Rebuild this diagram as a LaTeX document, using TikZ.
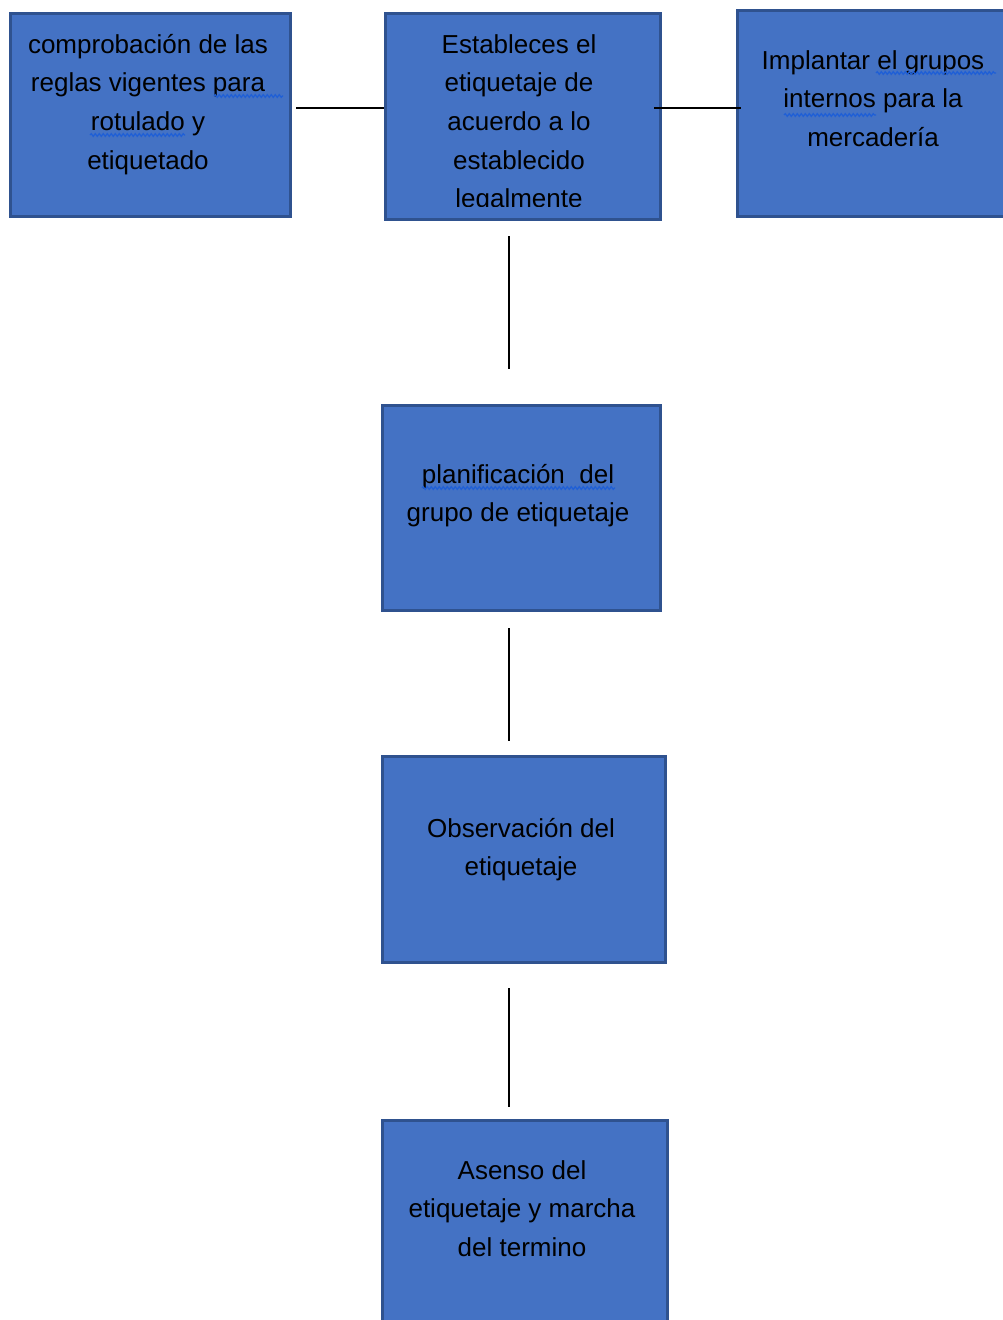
\documentclass[tikz,border=0pt]{standalone}
\usepackage{fontspec}
\setmainfont{Liberation Sans}
\usetikzlibrary{decorations.pathmorphing}
\definecolor{boxfill}{HTML}{4472C4}
\definecolor{boxline}{HTML}{2F528F}
\definecolor{spell}{HTML}{1F5FD6}
\begin{document}
\begin{tikzpicture}[x=1pt,y=-1pt,
  box/.style={draw=boxline, line width=2.5pt, fill=boxfill, rectangle, inner sep=0pt, anchor=north west},
  txt/.style={align=center, anchor=base, inner sep=0pt, font=\fontsize{26}{38.7}\selectfont, text=black},
  conn/.style={line width=2.6pt, black},
  squig/.style={spell, line width=1.3pt, decorate, decoration={snake, amplitude=1.3pt, segment length=4pt}}]
\useasboundingbox (0,0) rectangle (1003,1320);
\clip (0,0) rectangle (1003,1320);
% boxes
\node[box, minimum width=280pt, minimum height=203pt] (b1) at (9,12) {};
\node[box, minimum width=275pt, minimum height=206pt] (b2) at (384,12) {};
\node[box, minimum width=280pt, minimum height=206pt] (b3) at (736,9) {};
\node[box, minimum width=278pt, minimum height=205pt] (b4) at (381,404) {};
\node[box, minimum width=283pt, minimum height=206pt] (b5) at (381,755) {};
\node[box, minimum width=285pt, minimum height=215pt] (b6) at (381,1119) {};
% texts (anchored at the baseline of their last line)
\node[txt] (t1) at (148,169.1) {comprobación de las\\reglas vigentes para\\rotulado y\\etiquetado};
\begin{scope}
\clip (385,13) rectangle (658,206);
\node[txt] (t2) at (519,207.8) {Estableces el\\etiquetaje de\\acuerdo a lo\\establecido\\legalmente};
\end{scope}
\node[txt] (t3) at (873,146.4) {Implantar el grupos\\internos para la\\mercadería};
\node[txt] (t4) at (518,521.7) {planificación\ \ del\\grupo de etiquetaje};
\node[txt] (t5) at (521,875.7) {Observación del\\etiquetaje};
\node[txt] (t6) at (522,1256.4) {Asenso del\\etiquetaje y marcha\\del termino};
% spelling marks
\draw[squig] (214,96) -- (283,96);
\draw[squig] (90,135) -- (185,135);
\draw[squig] (876,73) -- (996,73);
\draw[squig] (784,115) -- (876,115);
\draw[squig] (422,488) -- (615,488);
% connectors
\coordinate (h1a) at (296,108);
\coordinate (h1b) at (384,108);
\coordinate (h2a) at (654,108);
\coordinate (h2b) at (741,108);
\coordinate (v1a) at (509,236);
\coordinate (v1b) at (509,369);
\coordinate (v2a) at (509,628);
\coordinate (v2b) at (509,741);
\coordinate (v3a) at (509,988);
\coordinate (v3b) at (509,1107);
\draw[conn] (h1a) -- (h1b);
\draw[conn] (h2a) -- (h2b);
\draw[conn] (v1a) -- (v1b);
\draw[conn] (v2a) -- (v2b);
\draw[conn] (v3a) -- (v3b);
\end{tikzpicture}
\end{document}
